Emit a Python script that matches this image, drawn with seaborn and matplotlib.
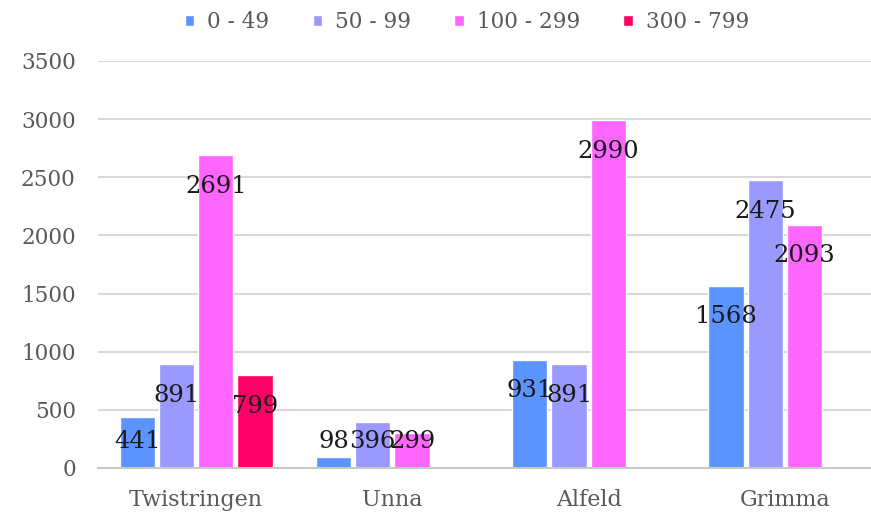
import numpy as np
import pandas as pd
import matplotlib
matplotlib.use("Agg")
import matplotlib.pyplot as plt
from matplotlib.font_manager import FontProperties
import seaborn as sns

cities = ["Twistringen", "Unna", "Alfeld", "Grimma"]
ranges = ["0 - 49", "50 - 99", "100 - 299", "300 - 799"]
vals_0_49 = [441, 98, 931, 1568]
vals_50_99 = [891, 396, 891, 2475]
vals_100_299 = [2691, 299, 2990, 2093]
vals_300_799 = [799, np.nan, np.nan, np.nan]
colors = ["#5B93FF", "#9999FF", "#FF66FF", "#FF0066"]
yticks = [0, 500, 1000, 1500, 2000, 2500, 3000, 3500]

series = [vals_0_49, vals_50_99, vals_100_299, vals_300_799]
rows = []
for r, vals in zip(ranges, series):
    for c, v in zip(cities, vals):
        rows.append({"city": c, "range": r, "value": v})
df = pd.DataFrame(rows)

sns.set_theme(style="white")
plt.rcParams["font.family"] = ["DejaVu Serif"]
FAM = "DejaVu Serif"

fig = plt.figure(figsize=(8.71, 5.15), dpi=100)
ax = fig.add_axes([98/871, 47/515, 785/871, 407/515])

sns.barplot(data=df, x="city", y="value", hue="range", order=cities,
            hue_order=ranges, palette=colors, width=0.8, gap=0.1,
            saturation=1, ax=ax, legend=True, errorbar=None)

ax.set_ylim(0, 3500)
ax.set_xlim(-0.5, 3.5)
ax.set_yticks(yticks)
ax.set_yticklabels([str(t) for t in yticks])
ax.yaxis.grid(True, color="#D9D9D9", linewidth=1.5)
ax.set_axisbelow(True)
for s in ["top", "right", "left"]:
    ax.spines[s].set_visible(False)
ax.spines["bottom"].set_color("#C8C8C8")
ax.spines["bottom"].set_linewidth(1.5)
ax.set_xlabel("")
ax.set_ylabel("")
ax.tick_params(axis="y", length=0, pad=16, labelsize=15.5, labelcolor="#595959")
ax.tick_params(axis="x", which="major", length=0, pad=15, labelsize=16, labelcolor="#595959")
ax.set_xticks(np.arange(-0.5, 4.0, 1.0), minor=True)
ax.tick_params(axis="x", which="minor", length=6, width=1.5, color="#C8C8C8")
for lab in ax.get_xticklabels() + ax.get_yticklabels():
    lab.set_fontfamily(FAM)

# data labels (inside end, clamped near the base)
off = 267
floor = 224
for cont, r in zip(ax.containers, ranges):
    for bar in cont:
        h = bar.get_height()
        if np.isnan(h) or h == 0:
            continue
        x = bar.get_x() + bar.get_width() / 2
        y = max(h - off, floor)
        ax.text(x, y, f"{int(round(h))}", ha="center", va="center",
                fontsize=17.5, color="#1a1a1a", fontfamily=FAM)

leg = ax.get_legend()
handles, labels = ax.get_legend_handles_labels()
leg.remove()
fig.legend(handles, labels, loc="center", bbox_to_anchor=(0.536, 0.957),
           ncol=4, frameon=False, prop=FontProperties(family=FAM, size=15.5),
           handlelength=0.45, handleheight=0.45, handletextpad=0.6,
           columnspacing=2.0, labelcolor="#595959")

fig.savefig("out.png", dpi=100)
